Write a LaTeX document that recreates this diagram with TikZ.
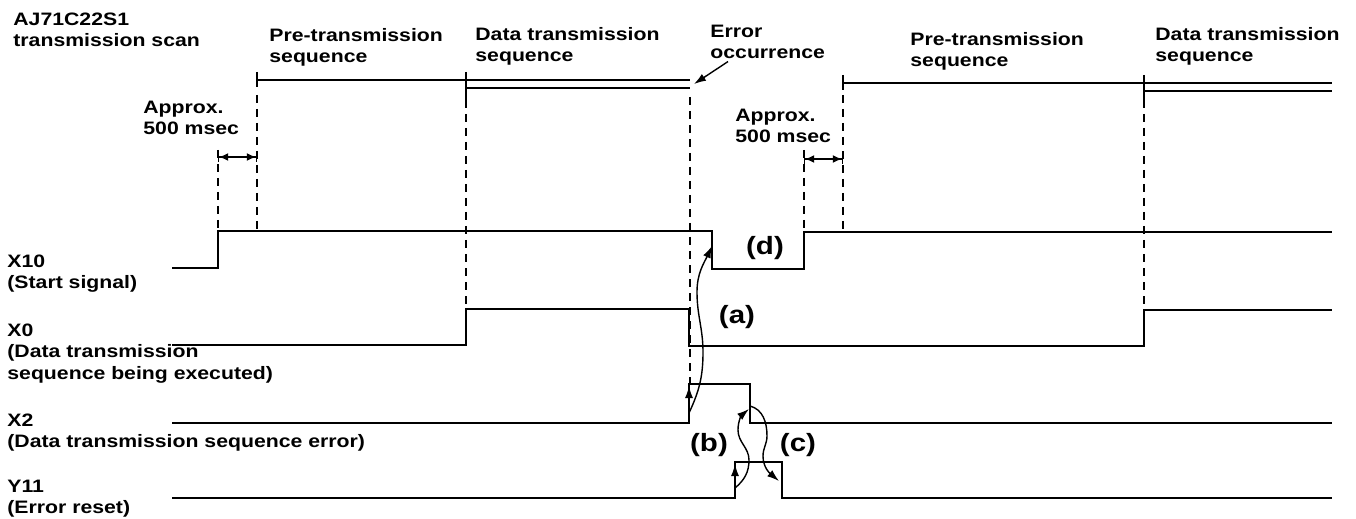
\documentclass[tikz,border=0pt]{standalone}
\usepackage{fontspec}
\setmainfont[FakeStretch=1.18]{Liberation Sans}
\usepackage{tikz}
\usetikzlibrary{arrows.meta}

\begin{document}
\begin{tikzpicture}[
  x=0.5pt, y=-0.5pt,
  lbl/.style={anchor=base west, inner sep=0pt, align=left, font=\fontsize{9}{10.5}\selectfont\bfseries},
  tag/.style={inner sep=0pt, font=\fontsize{12.5}{13}\selectfont\bfseries},
  sig/.style={line width=1pt},
  scan/.style={line width=0.8pt},
  guide/.style={line width=0.7pt, dash pattern=on 4pt off 3pt},
  dim/.style={line width=0.6pt, {Bar[width=5pt]Latex[length=4.5pt,width=4pt]}-{Latex[length=4.5pt,width=4pt]Bar[width=5pt]}},
  arr/.style={line width=0.7pt, -{Latex[length=6pt,width=4pt]}}
]
  \useasboundingbox (0,0) rectangle (1356,519);

  % texts
  \node[lbl] (scantxt) at (13,47) {AJ71C22S1\\transmission scan};
  \node[lbl] (pre1) at (269,63) {Pre-transmission\\sequence};
  \node[lbl] (data1) at (475,62) {Data transmission\\sequence};
  \node[lbl] (errtxt) at (710,59) {Error\\occurrence};
  \node[lbl] (pre2) at (910,67) {Pre-transmission\\sequence};
  \node[lbl] (data2) at (1155,62) {Data transmission\\sequence};
  \node[lbl] (apx1) at (143,135) {Approx.\\500 msec};
  \node[lbl] (apx2) at (735,143) {Approx.\\500 msec};
  \node[lbl] (x10txt) at (7,288) {X10\\(Start signal)};
  \node[lbl] (x0txt) at (7,379) {X0\\(Data transmission\\sequence being executed)};
  \node[lbl] (x2txt) at (7,447) {X2\\(Data transmission sequence error)};
  \node[lbl] (y11txt) at (7,513) {Y11\\(Error reset)};

  % scan line
  \draw[scan] (257,72) -- (257,87);
  \draw[scan] (257,80) -- (690,80);
  \draw[scan] (466,72) -- (466,100);
  \draw[scan] (466,88) -- (690,88);
  \draw[scan] (843,75) -- (843,90);
  \draw[scan] (843,83) -- (1332,83);
  \draw[scan] (1144,75) -- (1144,100);
  \draw[scan] (1144,91) -- (1332,91);
  \coordinate (errpt) at (694,84);
  \draw[arr] ([xshift=9pt,yshift=-1pt]errtxt.south west) -- (errpt);

  % guides
  \draw[guide] (218,150) -- (218,231);
  \draw[guide] (257,95) -- (257,231);
  \draw[guide] (466,100) -- (466,309);
  \draw[guide] (690,97) -- (690,384);
  \draw[guide] (804,150) -- (804,232);
  \draw[guide] (843,95) -- (843,232);
  \draw[guide] (1144,100) -- (1144,310);
  \draw[dim] (218,157) -- (257,157);
  \draw[dim] (804,159) -- (843,159);

  % signals
  \draw[sig] (172,268) -- (218,268) -- (218,231) -- (712,231) -- (712,269)
    -- (804,269) -- (804,232) -- (1332,232);
  \draw[sig] (172,345) -- (466,345) -- (466,309) -- (689,309) -- (689,346)
    -- (1144,346) -- (1144,310) -- (1332,310);
  \draw[sig] (172,423) -- (689,423) -- (689,384) -- (750,384) -- (750,423) -- (1332,423);
  \draw[sig] (172,498) -- (735,498) -- (735,462) -- (782,462) -- (782,498) -- (1332,498);

  % cause and effect
  \coordinate (aS) at (689,413);
  \coordinate (aE) at (712,246);
  \coordinate (bS) at (735,488);
  \coordinate (bE) at (749,409);
  \coordinate (cS) at (750,406);
  \coordinate (cE) at (779,481);
  \draw[arr] (aS) to[out=65,in=-90] (703,352) to[out=90,in=-90] (697,292)
    to[out=90,in=-115] (aE);
  \draw[arr] (bS) to[out=40,in=-90] (749,460) to[out=90,in=-90] (738,430)
    to[out=90,in=-140] (bE);
  \draw[arr] (cS) to[out=-15,in=90] (767,436) to[out=-90,in=90] (763,456)
    to[out=-90,in=140] (cE);
  \draw[arr] (689,402) -- (689,386);
  \draw[arr] (735,480) -- (735,464);

  \node[tag] (ta) at (737,317) {(a)};
  \node[tag] (tb) at (709,445) {(b)};
  \node[tag] (tc) at (798,445) {(c)};
  \node[tag] (td) at (765,248) {(d)};
\end{tikzpicture}
\end{document}
